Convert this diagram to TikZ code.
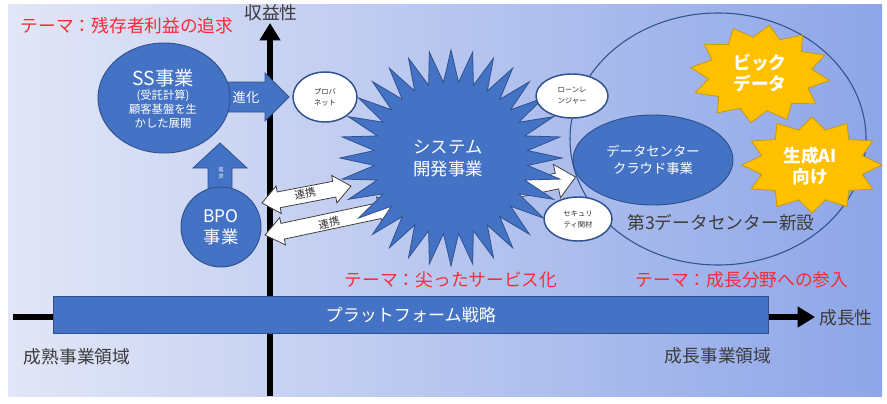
\documentclass[tikz,border=0pt]{standalone}
\usepackage{fontspec}
\setmainfont{Noto Sans CJK JP}
\usetikzlibrary{arrows.meta,shapes.geometric}
\definecolor{bfill}{HTML}{4472C4}
\definecolor{bedge}{HTML}{2F528F}
\definecolor{yfill}{HTML}{FFC000}
\definecolor{yedge}{HTML}{C99A00}
\definecolor{bgl}{HTML}{E2E6F6}
\definecolor{bgr}{HTML}{8EA6E8}
\definecolor{tred}{RGB}{245,45,55}
\definecolor{tgray}{HTML}{3C3C3C}
\newcommand\blockarr[7]{% style, tail, angle, length, body half, head half, head length
  \begin{scope}[shift={#2},rotate=#3]
    \filldraw[#1] (0,-#5) -- ({#4-#7},-#5) -- ({#4-#7},-#6) -- (#4,0) -- ({#4-#7},#6) -- ({#4-#7},#5) -- (0,#5) -- cycle;
  \end{scope}}
\newcommand\dblblockarr[7]{% style, tail, angle, length, body half, head half, head length
  \begin{scope}[shift={#2},rotate=#3]
    \filldraw[#1] (0,0) -- (#7,-#6) -- (#7,-#5) -- ({#4-#7},-#5) -- ({#4-#7},-#6) -- (#4,0) -- ({#4-#7},#6) -- ({#4-#7},#5) -- (#7,#5) -- (#7,#6) -- cycle;
  \end{scope}}
\tikzset{
  lbl/.style={font=\fontsize{13.3}{16}\selectfont, text=tgray},
  theme/.style={font=\fontsize{13.3}{16}\selectfont, text=tred},
  bshape/.style={fill=bfill, draw=bedge, line width=0.7pt},
  wshape/.style={fill=white, draw=bedge, line width=1.1pt},
  warrow/.style={fill=white, draw=black!75, line width=0.6pt},
  barrow/.style={fill=bfill, draw=bedge, line width=0.6pt},
  wtxt/.style={text=white, align=center, inner sep=0pt},
  tinytxt/.style={text=black!80, align=center, inner sep=0pt, font=\fontsize{5.5}{8.2}\selectfont},
  axisline/.style={line width=4.6pt, -{Triangle[length=13pt,width=15pt]}},
}
\begin{document}
\begin{tikzpicture}[x=0.75pt,y=-0.75pt]
\useasboundingbox (0,0) rectangle (887,403);
\fill[white] (0,0) rectangle (887,403);
\shade[left color=bgl, right color=bgr] (8,5) rectangle (882,396);
% axes
\coordinate (vbot) at (270,396);
\coordinate (vtop) at (270,23);
\coordinate (hleft) at (13,317);
\coordinate (hright) at (815,317);
\draw[axisline] (vbot) -- (vtop);
\draw[axisline] (hleft) -- (hright);
\node[lbl] (yl) at (271,13) {収益性};
\node[lbl] (xl) at (846,318) {成長性};
% platform bar
\node[bshape, rectangle, minimum width=536pt, minimum height=27.5pt, anchor=north west, inner sep=0pt] (plat) at (53,296) {};
\node[wtxt, font=\fontsize{12.8}{15}\selectfont] (platt) at (plat.center) {プラットフォーム戦略};
% big circle
\node[ellipse, draw=bedge, line width=0.8pt, minimum width=222pt, minimum height=189pt, inner sep=0pt] (dcarea) at (718,139) {};
% block arrows
\blockarr{barrow}{(220,200)}{90}{57}{12}{27}{25}
\blockarr{barrow}{(222,97)}{0}{67}{15}{24}{24}
% SS & BPO
\node[bshape, ellipse, minimum width=99pt, minimum height=82.5pt, inner sep=0pt] (ss) at (164,98) {};
\node[wtxt, font=\fontsize{14.5}{17}\selectfont] (sst) at (163,78) {SS事業};
\node[wtxt, font=\fontsize{8.5}{10.5}\selectfont] (sss) at (163,109) {(受託計算)\\顧客基盤を生\\かした展開};
\node[bshape, circle, minimum size=60pt, inner sep=0pt, font=\fontsize{13}{16}\selectfont, text=white, align=center] (bpo) at (221,227) {BPO\\事業};
\node[wtxt, font=\fontsize{10}{12}\selectfont] (shinka) at (246,97) {進化};
\node[wtxt, font=\fontsize{4}{5.5}\selectfont] (tsuikyu) at (221,173) {追\\求};
% collaboration arrows
\dblblockarr{warrow}{(265,235)}{12}{135}{8}{14}{18}
\dblblockarr{warrow}{(262,203)}{10.8}{90.6}{8}{14}{17}
\node[text=black!80, font=\fontsize{8}{10}\selectfont, rotate=10.8, inner sep=0pt] (renkei1) at (305,194) {連携};
\node[text=black!80, font=\fontsize{8}{10}\selectfont, rotate=12, inner sep=0pt] (renkei2) at (329,223) {連携};
% arrow to DC
\blockarr{warrow}{(510,191)}{12}{67}{8}{17}{19}
% system star
\filldraw[fill=bfill, draw=bedge, line width=0.6pt] plot[domain=0:354.375, samples=64, variable=\t] ({451+(94+17*cos(32*\t))*cos(\t)}, {158+(92+16*cos(32*\t))*sin(\t)}) -- cycle;
\node[wtxt, font=\fontsize{13}{16.5}\selectfont] (sys) at (448,159) {システム\\開発事業};
% white ellipses
\node[wshape, ellipse, minimum width=48pt, minimum height=37.5pt, inner sep=0pt] (prov) at (325,97) {};
\node[tinytxt] (provt) at (prov.center) {プロバ\\ネット};
\node[wshape, ellipse, minimum width=54pt, minimum height=33pt, inner sep=0pt] (lone) at (572,96) {};
\node[tinytxt] (lonet) at (lone.center) {ローンレ\\ンジャー};
\node[wshape, ellipse, minimum width=51pt, minimum height=33pt, inner sep=0pt] (sec) at (578,219) {};
\node[tinytxt] (sect) at (sec.center) {セキュリ\\ティ関材};
% data center
\node[bshape, ellipse, minimum width=120pt, minimum height=67.5pt, inner sep=0pt] (dc) at (653,160) {};
\node[wtxt, font=\fontsize{10}{12.5}\selectfont] (dct) at (653,160) {データセンター\\クラウド事業};
% yellow stars
\filldraw[fill=yfill, draw=yedge, line width=0.6pt] plot[domain=7.5:352.5, samples=24, variable=\t] ({760+(61+9*cos(12*(\t-7.5)))*cos(\t)}, {74+(43+6*cos(12*(\t-7.5)))*sin(\t)}) -- cycle;
\node[wtxt, font=\fontsize{13.3}{16}\selectfont\bfseries] (big) at (760,73) {ビック\\データ};
\filldraw[fill=yfill, draw=yedge, line width=0.6pt] plot[domain=0:345, samples=24, variable=\t] ({812+(61+9*cos(12*\t))*cos(\t)}, {165+(42+6*cos(12*\t))*sin(\t)}) -- cycle;
\node[wtxt, font=\fontsize{13.3}{16}\selectfont\bfseries] (ai) at (810,166) {生成AI\\向け};
\node[lbl] (dc3) at (721,223) {第3データセンター新設};
% themes and regions
\node[theme] (th1) at (127,26) {テーマ：残存者利益の追求};
\node[theme] (th2) at (451,280) {テーマ：尖ったサービス化};
\node[theme] (th3) at (742,280) {テーマ：成長分野への参入};
\node[lbl] (mature) at (77,357) {成熟事業領域};
\node[lbl] (growth) at (718,356) {成長事業領域};
\end{tikzpicture}
\end{document}
